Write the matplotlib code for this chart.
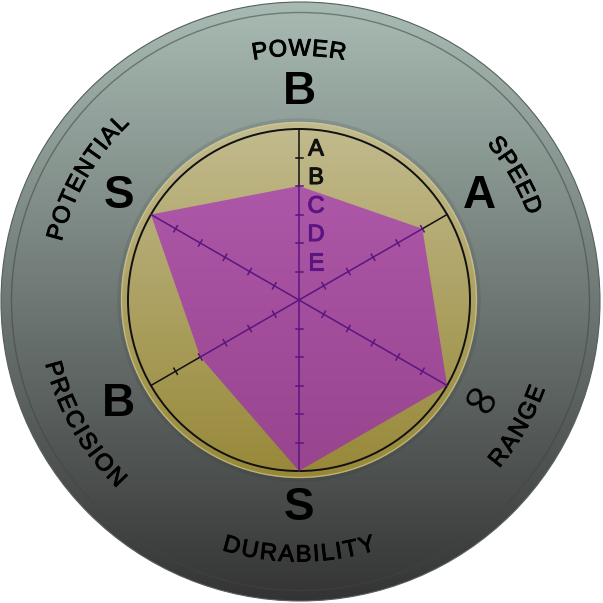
import numpy as np
import matplotlib.pyplot as plt
import matplotlib.colors as mcolors
import matplotlib.patheffects as pe
from matplotlib.patches import Circle, Polygon
from matplotlib.font_manager import FontProperties

# stand stats, read clockwise from the top
categories = ["POWER", "SPEED", "RANGE", "DURABILITY", "PRECISION", "POTENTIAL"]
grades = ["B", "A", "\u221e", "S", "B", "S"]
values = [4, 5, 6, 6, 4, 6]          # E=1, D=2, C=3, B=4, A=5, S/inf=6
scale_labels = ["E", "D", "C", "B", "A"]
angles = np.deg2rad([90, 30, -30, -90, -150, 150])

STEP = 28.5                          # one grade in pixels
R_MAX = 6 * STEP
PURPLE_LINE = "#5b1580"


def gradient_patch(ax, patch, top, bottom, zorder):
    """Fill a patch with a vertical gradient (top -> bottom)."""
    patch.set_facecolor("none")
    patch.set_edgecolor("none")
    patch.set_zorder(zorder)
    ax.add_patch(patch)
    t = np.linspace(0, 1, 256)[:, None]
    c0 = np.array(mcolors.to_rgb(top))
    c1 = np.array(mcolors.to_rgb(bottom))
    img = (c0 * (1 - t) + c1 * t)[:, None, :]
    x0, y0, x1, y1 = patch.get_path().transformed(patch.get_patch_transform()).get_extents().extents
    im = ax.imshow(img, extent=(x0, x1, y0, y1), origin="upper", aspect="auto",
                   interpolation="bilinear", zorder=zorder)
    im.set_clip_path(patch)
    return im


def thick(color, w=0.7):
    return [pe.withStroke(linewidth=w, foreground=color)]


def arc_text(ax, renderer, text, r, theta, fp, spacing, top=True, color="black"):
    """Write text letter by letter along a circle of radius r."""
    widths = [renderer.get_text_width_height_descent(ch, fp, ismath=False)[0] for ch in text]
    total = sum(widths) + spacing * (len(text) - 1)
    span = total / r
    cap = 0.72 * fp.get_size_in_points() * 100 / 72
    pos = 0
    for ch, w in zip(text, widths):
        mid = pos + w / 2
        if top:
            a = theta + span / 2 - mid / r
            rot = np.rad2deg(a) - 90
            rb = r - cap / 2
        else:
            a = theta - span / 2 + mid / r
            rot = np.rad2deg(a) + 90
            rb = r + cap / 2
        ax.text(rb * np.cos(a), rb * np.sin(a), ch, rotation=rot, rotation_mode="anchor",
                ha="center", va="baseline", fontproperties=fp, color=color, zorder=10,
                path_effects=thick(color))
        pos += w + spacing


def main():
    fig = plt.figure(figsize=(6.03, 6.03), dpi=100)
    fig.patch.set_facecolor("white")
    ax = fig.add_axes([0, 0, 1, 1])
    ax.axis("off")

    # outer grey disc
    outer = Circle((1.5, -1.5), 299.5)
    gradient_patch(ax, outer, "#a8bbb3", "#343434", 1)
    ax.add_patch(Circle((1.5, -1.5), 299.5, fill=False, ec="#55605c", lw=0.8, zorder=2))
    ax.add_patch(Circle((1.5, -1.5), 289, fill=False, ec="#3f4644", lw=1.0, alpha=0.55, zorder=2))

    # yellow inner disc
    ax.add_patch(Circle((0, 0), 180, fill=False, ec="#2a2a2a", lw=2.5, alpha=0.12, zorder=2))
    inner = Circle((0, 0), 178)
    gradient_patch(ax, inner, "#c2bb8e", "#978838", 3)
    ax.add_patch(Circle((0, 0), 177.5, fill=False, ec="#d6cf9c", lw=1.0, alpha=0.6, zorder=4))
    ax.add_patch(Circle((0, 0), R_MAX, fill=False, ec="#111111", lw=1.4, zorder=6))

    # stat polygon
    r_vals = np.array(values) * STEP
    xs = r_vals * np.cos(angles)
    ys = r_vals * np.sin(angles)
    poly = Polygon(np.column_stack([xs, ys]), closed=True)
    gradient_patch(ax, poly, "#ad57a8", "#98448e", 5)

    # axes with ticks
    for a, rv in zip(angles, r_vals):
        ca, sa = np.cos(a), np.sin(a)
        ax.plot([0, rv * ca], [0, rv * sa], color=PURPLE_LINE, lw=1.1, zorder=7)
        if rv < R_MAX:
            ax.plot([rv * ca, R_MAX * ca], [rv * sa, R_MAX * sa], color="#111111", lw=1.1, zorder=7)
        for k in range(1, 6):
            rk = k * STEP
            col = PURPLE_LINE if rk <= rv else "#111111"
            px, py = -sa * 3.5, ca * 3.5
            ax.plot([rk * ca - px, rk * ca + px], [rk * sa - py, rk * sa + py],
                    color=col, lw=1.1, zorder=7)

    # grade scale along the power axis
    fp_scale = FontProperties(family=["Liberation Sans", "DejaVu Sans"], size=17)
    for k, lab in enumerate(scale_labels, start=1):
        rk = k * STEP + 8
        col = PURPLE_LINE if rk <= r_vals[0] else "#111111"
        ax.text(17, rk, lab, ha="center", va="center", fontproperties=fp_scale,
                color=col, zorder=8, path_effects=thick(col, 0.8))

    # grades
    fp_grade = FontProperties(family=["Liberation Sans", "DejaVu Sans"], weight="bold", size=33)
    fp_inf = FontProperties(family=["DejaVu Sans"], size=34)
    for a, g in zip(angles, grades):
        x, y = 208 * np.cos(a), 208 * np.sin(a)
        if g == "\u221e":
            ax.text(x, y, g, ha="center", va="center", rotation=-30, fontproperties=fp_inf,
                    color="black", zorder=10)
        else:
            ax.text(x, y - 11.5, g, ha="center", va="baseline", fontproperties=fp_grade,
                    color="black", zorder=10)

    # category names along the rim
    renderer = fig.canvas.get_renderer()
    fp_cat = FontProperties(family=["Liberation Sans", "DejaVu Sans"], size=17)
    for a, name in zip(angles, categories):
        top = np.sin(a) > 0
        arc_text(ax, renderer, name, 253, a, fp_cat, 1.5, top=top)

    ax.set_xlim(-299, 304)
    ax.set_ylim(-303, 300)
    ax.set_aspect("equal")
    fig.savefig("out.png", dpi=100, facecolor="white")


if __name__ == "__main__":
    main()
